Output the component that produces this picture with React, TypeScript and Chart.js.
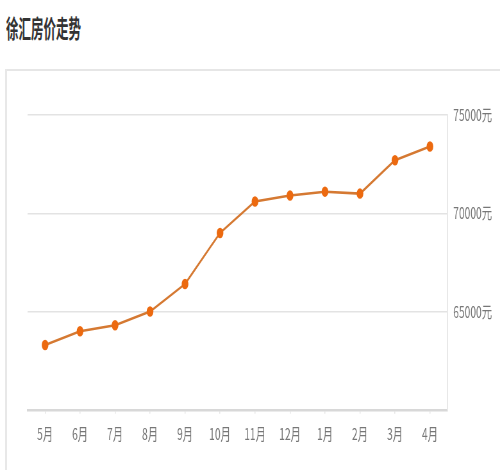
import { useEffect, useRef } from "react";
import { Chart, registerables } from "chart.js";

Chart.register(...registerables);

const MONTHS = ["5月", "6月", "7月", "8月", "9月", "10月", "11月", "12月", "1月", "2月", "3月", "4月"];
const PRICES = [63300, 64000, 64300, 65000, 66400, 69000, 70600, 70900, 71100, 71000, 72700, 73400];
const Y_MIN = 60000;
const Y_MAX = 75000;
const Y_STEP = 5000;

const FONT = '"Noto Sans CJK SC", "Noto Sans", sans-serif';
// the reference is squeezed horizontally, so the canvas is drawn wide and shown at 500px
const INNER_W = 780;
const CANVAS_H = 398;

function PriceTrend() {
  const ref = useRef<HTMLCanvasElement | null>(null);
  const chartRef = useRef<Chart | null>(null);

  useEffect(() => {
    if (!ref.current) return;
    chartRef.current?.destroy();
    chartRef.current = new Chart(ref.current, {
      type: "line",
      data: {
        labels: MONTHS,
        datasets: [
          {
            label: "徐汇房价",
            data: PRICES,
            borderColor: "#D57932",
            borderWidth: 2.5,
            pointBackgroundColor: "#EC6A10",
            pointBorderColor: "#EC6A10",
            pointRadius: 4,
            tension: 0,
          },
        ],
      },
      options: {
        responsive: false,
        devicePixelRatio: 1,
        animation: false,
        layout: { padding: { top: 43, left: 43, right: 0, bottom: 15 } },
        plugins: {
          legend: { display: false },
          tooltip: { enabled: false },
        },
        scales: {
          x: {
            offset: true,
            grid: {
              offset: false,
              drawOnChartArea: false,
              drawTicks: true,
              tickLength: 4,
              color: "#e6e6e6",
              lineWidth: 1.5,
            },
            border: { display: true, color: "#d8d8d8", width: 2.5 },
            ticks: {
              color: "#777",
              font: { size: 16, family: FONT },
              padding: 11,
              maxRotation: 0,
              autoSkip: false,
            },
          },
          y: {
            position: "right",
            min: Y_MIN,
            max: Y_MAX,
            grid: { color: "#e3e3e3", lineWidth: 1.5, drawTicks: false },
            border: { display: true, color: "#e8e8e8", width: 2 },
            ticks: {
              stepSize: Y_STEP,
              color: "#777",
              font: { size: 16, family: FONT },
              padding: 9,
              callback: (v) => (Number(v) === Y_MIN ? "" : `${v}元`),
            },
            afterFit: (s) => {
              s.width = 82;
            },
          },
        },
      },
    });
    return () => {
      chartRef.current?.destroy();
      chartRef.current = null;
    };
  }, []);

  return (
    <canvas
      ref={ref}
      width={INNER_W}
      height={CANVAS_H}
      style={{ position: "absolute", left: 0, top: 72, width: "500px", height: `${CANVAS_H}px` }}
      aria-label="徐汇房价走势"
    />
  );
}

export default function App() {
  return (
    <div
      style={{
        position: "fixed",
        left: 0,
        top: 0,
        width: 500,
        height: 470,
        background: "#fff",
        overflow: "hidden",
      }}
    >
      <div
        style={{
          position: "absolute",
          left: 6,
          top: 15,
          fontFamily: FONT,
          fontSize: 25,
          fontWeight: "bold",
          lineHeight: 1,
          color: "#333",
          whiteSpace: "nowrap",
          transform: "scaleX(0.5)",
          transformOrigin: "0 0",
        }}
      >
        徐汇房价走势
      </div>
      <div style={{ position: "absolute", left: 5, top: 69, width: 495, height: 2, background: "#e6e6e6" }} />
      <div style={{ position: "absolute", left: 5, top: 69, width: 1.5, height: 401, background: "#e8e8e8" }} />
      <PriceTrend />
    </div>
  );
}
